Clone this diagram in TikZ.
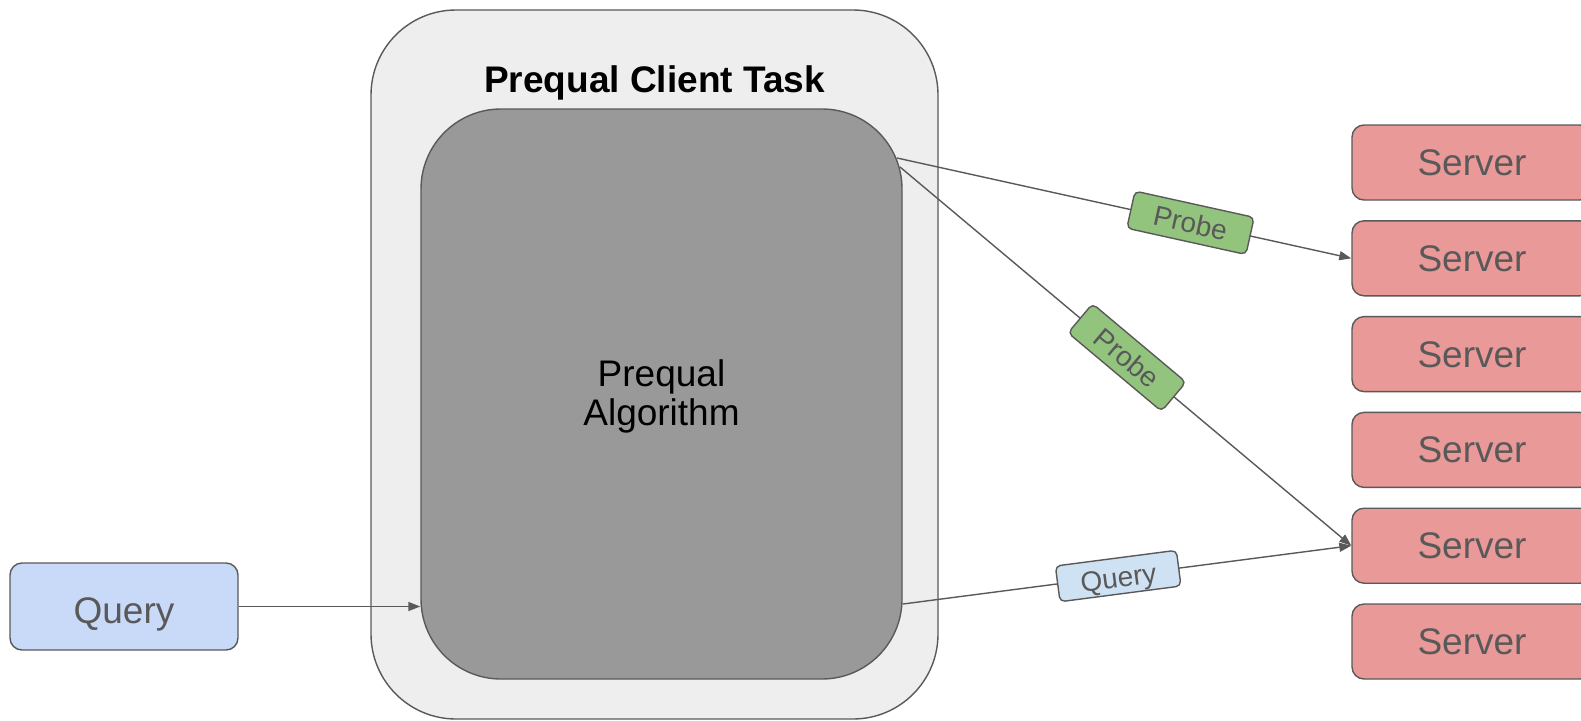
\documentclass[tikz,border=0pt]{standalone}
\usepackage{fontspec}
\setmainfont{Liberation Sans}
\usetikzlibrary{arrows.meta}

\definecolor{edge}{HTML}{595959}
\definecolor{clientfill}{HTML}{EEEEEE}
\definecolor{algofill}{HTML}{999999}
\definecolor{queryfill}{HTML}{C9DAF8}
\definecolor{serverfill}{HTML}{EA9999}
\definecolor{probefill}{HTML}{93C47D}
\definecolor{qlabelfill}{HTML}{CFE2F3}

\tikzset{
  box/.style={draw=edge, line width=1.4pt, rounded corners=12pt, inner sep=0pt,
    text=edge, font=\fontsize{37}{40}\selectfont, text depth=0pt},
  serverbox/.style={box, fill=serverfill, minimum width=240pt, minimum height=75pt},
  link/.style={draw=edge, line width=1.4pt, -{Triangle[length=12pt,width=9pt]}},
  tag/.style={draw=edge, line width=1.4pt, rounded corners=5pt, sloped, inner sep=0pt,
    minimum width=122pt, minimum height=38pt, text=edge, text depth=0pt,
    font=\fontsize{28}{30}\selectfont},
}

\begin{document}
\begin{tikzpicture}[x=1pt, y=-1pt]
  \useasboundingbox (0,0) rectangle (1581,720);
  \begin{scope}
    \clip (0,0) rectangle (1581,720);

    % client task container and the algorithm inside it
    \node[box, fill=clientfill, rounded corners=85pt, minimum width=567pt, minimum height=709pt]
      (client) at (654.5,364.5) {};
    \node[font=\bfseries\fontsize{37}{40}\selectfont, text=black, inner sep=0pt, anchor=base]
      (title) at (654.5,92) {Prequal Client Task};
    \node[box, fill=algofill, rounded corners=80pt, minimum width=481pt, minimum height=570pt]
      (algo) at (661.5,394) {};
    \node[text=black, align=center, font=\fontsize{37}{39}\selectfont, inner sep=0pt]
      (algotext) at (661.5,396) {Prequal\\Algorithm};

    % incoming query
    \node[box, fill=queryfill, minimum width=228pt, minimum height=87pt, text height=33pt]
      (query) at (124,606.5) {Query};

    % server pool
    \foreach \i in {1,...,6} {
      \node[serverbox] (s\i) at (1472, {162.5+95.8*(\i-1)}) {Server};
    }

    % points where the connectors leave the algorithm box
    \coordinate (probeA) at (897,158);
    \coordinate (probeB) at (900,167);
    \coordinate (dispatch) at (903,604);

    \draw[link] (query.east) -- (query.east -| algo.west);
    \draw[link] (probeA) -- node[tag, fill=probefill, pos=0.646] {Probe} (s2.west);
    \draw[link] (probeB) -- node[tag, fill=probefill, pos=0.503] {Probe} (s5.west);
    \draw[link] (dispatch) -- node[tag, fill=qlabelfill, pos=0.48, minimum height=36pt, text height=23pt] {Query} (s5.west);
  \end{scope}
\end{tikzpicture}
\end{document}
